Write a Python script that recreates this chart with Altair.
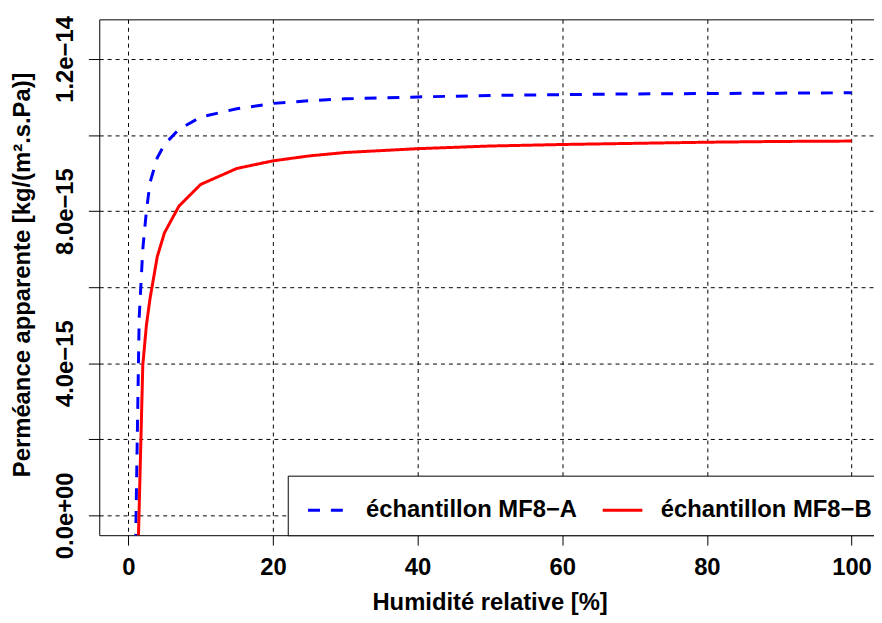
import altair as alt
import pandas as pd

# ---- data ----
rh = [1, 1.5, 2, 2.5, 3, 4, 5, 7, 10, 15, 20, 25, 30, 40, 50, 60, 70, 80, 90, 100]
perm_a = [-0.8e-15, 5.2e-15, 7.0e-15, 8.0e-15, 8.75e-15, 9.4e-15, 9.75e-15, 10.15e-15,
          10.47e-15, 10.69e-15, 10.83e-15, 10.9e-15, 10.95e-15, 11.0e-15, 11.04e-15,
          11.06e-15, 11.08e-15, 11.09e-15, 11.10e-15, 11.11e-15]
perm_b = [-3.6e-15, 0.2e-15, 3.95e-15, 5.0e-15, 5.7e-15, 6.8e-15, 7.43e-15, 8.13e-15,
          8.70e-15, 9.12e-15, 9.32e-15, 9.45e-15, 9.54e-15, 9.64e-15, 9.71e-15,
          9.75e-15, 9.78e-15, 9.81e-15, 9.83e-15, 9.84e-15]
series_names = ["échantillon MF8−A", "échantillon MF8−B"]
series_colors = ["#0000FF", "#FF0000"]

x_ticks = [0, 20, 40, 60, 80, 100]
y_ticks = [0, 2e-15, 4e-15, 6e-15, 8e-15, 1e-14, 1.2e-14]
y_tick_labels = ["0.0e+00", "", "4.0e−15", "", "8.0e−15", "", "1.2e−14"]

x_title = "Humidité relative [%]"
y_title = "Perméance apparente [kg/(m².s.Pa)]"

# ---- build table ----
rows = []
for name, vals in zip(series_names, [perm_a, perm_b]):
    for x, v in zip(rh, vals):
        rows.append({"rh": x, "perm": v, "serie": name})
df = pd.DataFrame(rows)

label_expr = ""
for v, lab in zip(y_ticks, y_tick_labels):
    label_expr += f"abs(datum.value - ({v!r})) < 1e-17 ? '{lab}' : "
label_expr += "''"

FONT = "Liberation Sans"
W, H = 781, 520
x_dom = [-4.02, 103.11]
y_dom = [-0.522e-15, 13.04e-15]

x_scale = alt.Scale(domain=x_dom, nice=False, zero=False)
y_scale = alt.Scale(domain=y_dom, nice=False, zero=False)

lines = alt.Chart(df).mark_line(clip=True, strokeWidth=3).encode(
    x=alt.X("rh:Q", scale=x_scale,
            axis=alt.Axis(values=x_ticks, format="d", title=x_title,
                          grid=True, gridColor="#000000", gridDash=[4, 4], gridWidth=1,
                          gridOpacity=1,
                          domain=True, domainColor="#000000", domainWidth=1,
                          ticks=True, tickColor="#000000", tickSize=10, tickWidth=1,
                          labelFont=FONT, labelFontSize=24, labelFontWeight="bold",
                          labelColor="#000000", labelBaseline="alphabetic", labelPadding=30,
                          labelFlush=False, labelOverlap=False,
                          titleFont=FONT, titleFontSize=24, titleFontWeight="bold",
                          titleColor="#000000", titleX=393.5, titleY=75,
                          titleAlign="center", titleBaseline="alphabetic")),
    y=alt.Y("perm:Q", scale=y_scale,
            axis=alt.Axis(values=y_ticks, labelExpr=label_expr, title=y_title,
                          grid=True, gridColor="#000000", gridDash=[4, 4], gridWidth=1,
                          gridOpacity=1,
                          domain=True, domainColor="#000000", domainWidth=1,
                          ticks=True, tickColor="#000000", tickSize=11, tickWidth=1,
                          labelFont=FONT, labelFontSize=24, labelFontWeight="bold",
                          labelColor="#000000", labelAngle=-90, labelAlign="center",
                          labelBaseline="alphabetic", labelPadding=16,
                          labelFlush=False, labelOverlap=False,
                          titleFont=FONT, titleFontSize=24, titleFontWeight="bold",
                          titleColor="#000000", titleAngle=-90, titleX=-70, titleY=257,
                          titleAlign="center", titleBaseline="alphabetic")),
    color=alt.Color("serie:N",
                    scale=alt.Scale(domain=series_names, range=series_colors),
                    legend=alt.Legend(title=None, orient="none", legendX=190, legendY=460,
                                      direction="horizontal",
                                      strokeColor="#000000", fillColor="#FFFFFF",
                                      padding=13, symbolOffset=6, cornerRadius=0,
                                      symbolType="stroke", symbolSize=1600,
                                      symbolStrokeWidth=3,
                                      labelFont=FONT, labelFontSize=24,
                                      labelFontWeight="bold", labelColor="#000000",
                                      labelOffset=17, columnPadding=18,
                                      labelLimit=400)),
    strokeDash=alt.StrokeDash("serie:N",
                              scale=alt.Scale(domain=series_names, range=[[12, 11], [1, 0]]),
                              legend=None),
)

frame_top = alt.Chart(df).mark_line(opacity=0).encode(
    x=alt.X("rh:Q", scale=x_scale,
            axis=alt.Axis(orient="top", labels=False, ticks=False, grid=False,
                          domain=True, domainColor="#000000", domainWidth=1, title=None)),
    y=alt.Y("perm:Q", scale=y_scale, axis=None),
)

chart = alt.layer(lines, frame_top).resolve_axis(x="independent", y="independent").properties(
    width=W, height=H,
    autosize=alt.AutoSizeParams(type="none"),
    padding={"left": 92, "top": 9, "right": 0, "bottom": 78},
    background="#FFFFFF",
).configure_view(stroke=None)

chart.save("out.html", embed_options={"renderer": "svg", "actions": False})
